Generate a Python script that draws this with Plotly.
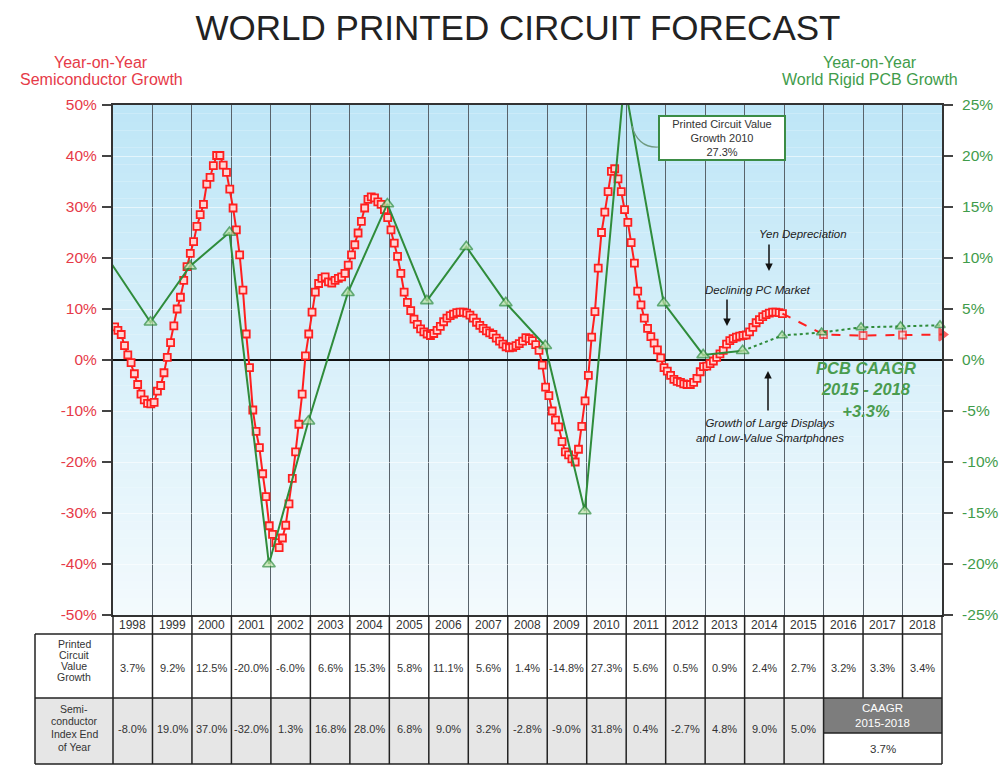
import plotly.graph_objects as go

# ---------------------------------------------------------------- data
TITLE = "WORLD PRINTED CIRCUIT FORECAST"
YEARS = list(range(1998, 2019))

# Printed circuit value growth (%), one value per year 1998-2018
PCB_GROWTH = [3.7, 9.2, 12.5, -20.0, -6.0, 6.6, 15.3, 5.8, 11.1, 5.6, 1.4,
              -14.8, 27.3, 5.6, 0.5, 0.9, 2.4, 2.7, 3.2, 3.3, 3.4]
PCB_PRIOR_YEAR = 1997
PCB_PRIOR_VALUE = 9.5
PCB_FORECAST_FROM = 2013
PCB_CAAGR = 3.3

# Year-on-year semiconductor growth (%), monthly
SEMI_MONTHLY = {
    1998: [6.5, 5.8, 5.0, 2.8, 1.0, -0.5, -2.7, -4.8, -6.7, -7.8, -8.5, -8.6],
    1999: [-8.3, -6.1, -5.0, -2.5, 0.5, 3.4, 6.7, 10.0, 12.3, 15.6, 18.3, 20.9],
    2000: [23.2, 26.2, 28.5, 30.5, 34.5, 35.8, 38.1, 40.1, 40.1, 38.2, 36.8, 33.5],
    2001: [29.8, 25.5, 20.6, 13.7, 5.1, -1.5, -9.8, -14.0, -17.2, -22.3, -26.8, -32.5],
    2002: [-34.2, -35.8, -36.8, -34.9, -32.4, -28.2, -23.2, -18.0, -12.6, -6.7, 0.8, 5.1],
    2003: [9.4, 13.3, 15.0, 16.0, 16.3, 15.3, 15.1, 15.6, 16.0, 16.3, 17.0, 18.6],
    2004: [20.6, 22.6, 24.9, 27.2, 29.8, 31.5, 32.0, 31.8, 31.0, 30.5, 29.5, 27.9],
    2005: [25.5, 22.9, 20.3, 17.0, 13.3, 11.3, 9.7, 8.0, 7.0, 6.1, 5.5, 5.1],
    2006: [4.8, 5.2, 5.8, 6.6, 7.5, 8.2, 8.7, 9.0, 9.3, 9.4, 9.4, 9.2],
    2007: [8.8, 8.2, 7.4, 6.8, 6.2, 5.7, 5.3, 5.0, 4.3, 3.7, 3.1, 2.6],
    2008: [2.4, 2.5, 2.8, 3.2, 3.7, 4.4, 4.2, 3.8, 3.0, 1.9, -1.0, -5.3],
    2009: [-7.0, -10.0, -11.8, -13.1, -16.0, -18.0, -18.6, -19.4, -20.0, -17.5, -13.0, -8.0],
    2010: [-3.0, 4.5, 9.5, 18.0, 25.0, 29.0, 33.0, 37.0, 37.5, 35.5, 33.0, 29.5],
    2011: [27.0, 23.0, 19.0, 13.5, 10.8, 8.2, 6.2, 4.6, 3.3, 2.0, 0.4, -1.5],
    2012: [-2.2, -3.0, -3.8, -4.2, -4.4, -4.7, -4.8, -4.8, -4.4, -3.6, -2.3, -1.3],
    2013: [-1.2, -0.7, -0.2, 0.5, 1.2, 1.9, 3.1, 3.8, 4.2, 4.5, 4.7, 4.8],
    2014: [4.9, 5.5, 6.4, 7.3, 7.9, 8.5, 8.9, 9.2, 9.4, 9.4, 9.3, 9.1],
}
SEMI_FORECAST_YEARS = [2015, 2016, 2017, 2018]
SEMI_FORECAST = [5.0, 4.8, 4.9, 5.0]

# Semiconductor index at end of year (%), 1998-2015
SEMI_EOY = [-8.0, 19.0, 37.0, -32.0, 1.3, 16.8, 28.0, 6.8, 9.0, 3.2, -2.8,
            -9.0, 31.8, 0.4, -2.7, 4.8, 9.0, 5.0]
SEMI_CAAGR = 3.7

LEFT_TICKS = list(range(-50, 51, 10))
RIGHT_TICKS = list(range(-25, 26, 5))

ROW1_LABEL = ["Printed", "Circuit", "Value", "Growth"]
ROW2_LABEL = ["Semi-", "conductor", "Index End", "of Year"]

# ---------------------------------------------------------------- style
FONT = "Arial, Liberation Sans, sans-serif"
RED = "#ff1f1f"
RED_TEXT = "#e63a48"
GREEN = "#2f8c3b"
GREEN_TEXT = "#3f9c4b"
GRID = "#59636b"

W, H = 1000, 765
PLOT_LEFT, PLOT_RIGHT, PLOT_TOP, PLOT_BOTTOM = 113, 942, 105, 615
PLOT_W = PLOT_RIGHT - PLOT_LEFT
PLOT_H = PLOT_BOTTOM - PLOT_TOP
X0, X1 = YEARS[0], YEARS[-1] + 1          # each year owns [Y, Y+1]
PCB_OFFSET = 0.95                          # annual points sit at year end


def px_x(px):
    return (px - PLOT_LEFT) / PLOT_W


def px_y(py):
    return (PLOT_BOTTOM - py) / PLOT_H


def year_x(y):
    return (y - X0) / (X1 - X0)


def pct(v):
    return f"{v:.1f}%"


def label(x, y, text, font, **kw):
    d = dict(xref="paper", yref="paper", x=x, y=y, text=text, showarrow=False,
             xanchor="center", yanchor="middle", font=font)
    d.update(kw)
    return d


fig = go.Figure()

# ---------------------------------------------------------------- semiconductor (left axis)
semi_x, semi_y = [], []
for yr, vals in SEMI_MONTHLY.items():
    for m, v in enumerate(vals):
        semi_x.append(yr + (m + 0.5) / 12)
        semi_y.append(v)

fig.add_trace(go.Scatter(
    x=semi_x, y=semi_y, mode="lines+markers", yaxis="y",
    line=dict(color=RED, width=2),
    marker=dict(symbol="square", size=7, color="#ffd6d6",
                line=dict(color=RED, width=1.8)),
    hoverinfo="skip"))

fc_x = [semi_x[-1]] + [y + 1 for y in SEMI_FORECAST_YEARS]
fc_y = [semi_y[-1]] + SEMI_FORECAST
fig.add_trace(go.Scatter(
    x=fc_x, y=fc_y, mode="lines+markers", yaxis="y", cliponaxis=False,
    line=dict(color=RED, width=2, dash="dash"),
    marker=dict(symbol=["square"] * (len(fc_x) - 1) + ["triangle-right"],
                size=[0] + [7] * (len(fc_x) - 2) + [11],
                color=["#ffd6d6"] * (len(fc_x) - 1) + [RED],
                line=dict(color=RED, width=1.8)),
    hoverinfo="skip"))

# ---------------------------------------------------------------- PCB growth (right axis)
pcb_years = [PCB_PRIOR_YEAR] + YEARS
pcb_vals = [PCB_PRIOR_VALUE] + PCB_GROWTH
pcb_x = [y + PCB_OFFSET for y in pcb_years]
cut = pcb_years.index(PCB_FORECAST_FROM)

fig.add_trace(go.Scatter(
    x=pcb_x[:cut + 1], y=pcb_vals[:cut + 1], mode="lines", yaxis="y2",
    line=dict(color=GREEN, width=2), hoverinfo="skip"))
fig.add_trace(go.Scatter(
    x=pcb_x[cut:], y=pcb_vals[cut:], mode="lines", yaxis="y2",
    line=dict(color=GREEN, width=2, dash="dot"), hoverinfo="skip"))

vis = [i for i, v in enumerate(pcb_vals) if RIGHT_TICKS[0] <= v <= RIGHT_TICKS[-1]]
fig.add_trace(go.Scatter(
    x=[pcb_x[i] for i in vis], y=[pcb_vals[i] for i in vis],
    mode="markers", yaxis="y2", cliponaxis=False,
    marker=dict(symbol="triangle-up",
                size=[11 if pcb_years[i] <= PCB_FORECAST_FROM else 9 for i in vis],
                color="#bfe3a6", line=dict(color=GREEN, width=1.6)),
    hoverinfo="skip"))

# ---------------------------------------------------------------- shapes
shapes = []

# sky gradient behind the plot area
N = 60
top_c, bot_c = (190, 230, 247), (243, 250, 253)
for i in range(N):
    t = (i + 0.5) / N
    c = tuple(round(bot_c[k] + (top_c[k] - bot_c[k]) * t) for k in range(3))
    shapes.append(dict(type="rect", xref="paper", yref="paper",
                       x0=0, x1=1, y0=i / N, y1=(i + 1) / N,
                       fillcolor=f"rgb{c}", line=dict(width=0), layer="below"))

# callout connector for the 2010 box
shapes.append(dict(
    type="path", xref="paper", yref="paper",
    path=(f"M {px_x(632)},{px_y(126)} Q {px_x(638)},{px_y(148)} "
          f"{px_x(658)},{px_y(147)}"),
    line=dict(color="#6f9a80", width=1.2)))

# data table under the chart
LINE = dict(color="#222222", width=1.5)
HEAD_TOP, ROW1_TOP, ROW2_TOP, TABLE_BOT, CAAGR_MID = 615, 634, 698, 764, 733
LABEL_LEFT = px_x(35)
ROW2_END = year_x(SEMI_FORECAST_YEARS[0] + 1)

shapes.append(dict(type="rect", xref="paper", yref="paper",
                   x0=LABEL_LEFT, x1=ROW2_END, y0=px_y(TABLE_BOT), y1=px_y(ROW2_TOP),
                   fillcolor="#e6e6e6", line=dict(width=0)))
shapes.append(dict(type="rect", xref="paper", yref="paper",
                   x0=ROW2_END, x1=1, y0=px_y(CAAGR_MID), y1=px_y(ROW2_TOP),
                   fillcolor="#7d7d7d", line=dict(width=0)))
for py in (ROW1_TOP, ROW2_TOP, TABLE_BOT):
    shapes.append(dict(type="line", xref="paper", yref="paper",
                       x0=LABEL_LEFT, x1=1, y0=px_y(py), y1=px_y(py), line=LINE))
shapes.append(dict(type="line", xref="paper", yref="paper",
                   x0=ROW2_END, x1=1, y0=px_y(CAAGR_MID), y1=px_y(CAAGR_MID), line=LINE))
shapes.append(dict(type="line", xref="paper", yref="paper",
                   x0=LABEL_LEFT, x1=LABEL_LEFT, y0=px_y(TABLE_BOT), y1=px_y(ROW1_TOP),
                   line=LINE))
for yb in range(X0, X1 + 1):
    xb = year_x(yb)
    bottom = TABLE_BOT if (yb <= SEMI_FORECAST_YEARS[0] + 1 or yb == X1) else ROW2_TOP
    shapes.append(dict(type="line", xref="paper", yref="paper",
                       x0=xb, x1=xb, y0=px_y(bottom), y1=px_y(HEAD_TOP), line=LINE))

# ---------------------------------------------------------------- annotations
ann = []
TBL_FONT = dict(family=FONT, size=11, color="#333333")

for yr in YEARS:
    ann.append(label(year_x(yr + 0.5), px_y(625), str(yr),
                     dict(family=FONT, size=12, color="#333333")))
for yr, v in zip(YEARS, PCB_GROWTH):
    ann.append(label(year_x(yr + 0.5), px_y(668), pct(v), TBL_FONT))
for yr, v in zip(YEARS, SEMI_EOY):
    ann.append(label(year_x(yr + 0.5), px_y(729), pct(v), TBL_FONT))

LBL_FONT = dict(family=FONT, size=10.5, color="#333333")
for txt, py in zip(ROW1_LABEL, (644, 655, 666, 677)):
    ann.append(label(LABEL_LEFT / 2, px_y(py), txt, LBL_FONT))
for txt, py in zip(ROW2_LABEL, (709, 721, 734, 747)):
    ann.append(label(LABEL_LEFT / 2, px_y(py), txt, LBL_FONT))
ann.append(label((ROW2_END + 1) / 2, px_y((ROW2_TOP + CAAGR_MID) / 2),
                 f"CAAGR<br>{SEMI_FORECAST_YEARS[0]}-{SEMI_FORECAST_YEARS[-1]}",
                 dict(family=FONT, size=11.5, color="white")))
ann.append(label((ROW2_END + 1) / 2, px_y(749), pct(SEMI_CAAGR),
                 dict(family=FONT, size=11.5, color="#333333")))

# axis titles
for txt, py in (("Year-on-Year", 62), ("Semiconductor Growth", 80)):
    ann.append(label(px_x(101), px_y(py), txt, dict(family=FONT, size=16, color=RED_TEXT)))
for txt, py in (("Year-on-Year", 62), ("World Rigid PCB Growth", 80)):
    ann.append(label(px_x(870), px_y(py), txt, dict(family=FONT, size=16, color=GREEN_TEXT)))

# 2010 callout
ann.append(label(px_x(721.5), px_y(138),
                 f"Printed Circuit Value<br>Growth 2010<br>{pct(PCB_GROWTH[YEARS.index(2010)])}",
                 dict(family=FONT, size=11, color="#333333"),
                 bgcolor="white", bordercolor="#3b8c45", borderwidth=2, borderpad=1,
                 width=122, height=40))

# market notes
NOTE = dict(family=FONT, size=11.5, color="#222222")
ann.append(label(px_x(803), px_y(234), "<i>Yen Depreciation</i>", NOTE))
ann.append(label(px_x(758), px_y(290), "<i>Declining PC Market</i>", NOTE))
ann.append(label(px_x(770), px_y(430),
                 "<i>Growth of Large Displays<br>and Low-Value Smartphones</i>", NOTE))
ARROW = dict(showarrow=True, arrowhead=2, arrowsize=1, arrowwidth=1.5,
             arrowcolor="#111111", text="", xref="paper", yref="paper")
ann.append(dict(ARROW, x=px_x(769), y=px_y(271), ax=0, ay=-28))
ann.append(dict(ARROW, x=px_x(727), y=px_y(326), ax=0, ay=-28))
ann.append(dict(ARROW, x=px_x(768), y=px_y(371), ax=0, ay=41))

ann.append(label(px_x(866), px_y(389),
                 (f"<b><i>PCB CAAGR<br>{SEMI_FORECAST_YEARS[0]} - "
                  f"{SEMI_FORECAST_YEARS[-1]}<br>+{PCB_CAAGR}%</i></b>"),
                 dict(family=FONT, size=16.5, color="#4a9c4f")))

# ---------------------------------------------------------------- layout
fig.update_layout(
    width=W, height=H, autosize=False,
    margin=dict(l=PLOT_LEFT, r=W - PLOT_RIGHT, t=PLOT_TOP, b=H - PLOT_BOTTOM, pad=0),
    paper_bgcolor="white", plot_bgcolor="#f3fafd",
    showlegend=False,
    title=dict(text=TITLE, x=0.518, xanchor="center", y=1 - 28 / H,
               yanchor="middle", yref="container", automargin=False,
               font=dict(family=FONT, size=35, color="#222222")),
    xaxis=dict(range=[X0, X1], tick0=X0, dtick=1, showticklabels=False,
               showgrid=True, gridcolor=GRID, gridwidth=1.3, zeroline=False,
               showline=True, linecolor="#333333", linewidth=2, mirror=True,
               ticks="", automargin=False),
    yaxis=dict(range=[LEFT_TICKS[0], LEFT_TICKS[-1]], tickvals=LEFT_TICKS,
               ticktext=[f"{v}%" for v in LEFT_TICKS], automargin=False,
               tickfont=dict(family=FONT, size=15.5, color=RED_TEXT),
               ticks="outside", ticklen=9, tickwidth=1.5, tickcolor="#444444",
               ticklabelstandoff=2,
               showgrid=True, gridcolor="rgba(255,255,255,0.55)", gridwidth=1,
               zeroline=True, zerolinecolor="#111111", zerolinewidth=1.6,
               showline=True, linecolor="#333333", linewidth=2),
    yaxis2=dict(range=[RIGHT_TICKS[0], RIGHT_TICKS[-1]], tickvals=RIGHT_TICKS,
                ticktext=[f"{v}%" for v in RIGHT_TICKS], automargin=False,
                tickfont=dict(family=FONT, size=15.5, color=GREEN_TEXT),
                overlaying="y", side="right", ticklabelstandoff=6,
                ticks="outside", ticklen=9, tickwidth=1.5, tickcolor="#444444",
                showgrid=False, zeroline=False,
                showline=True, linecolor="#333333", linewidth=2),
    shapes=shapes,
    annotations=ann,
)

fig.write_html("out.html")
